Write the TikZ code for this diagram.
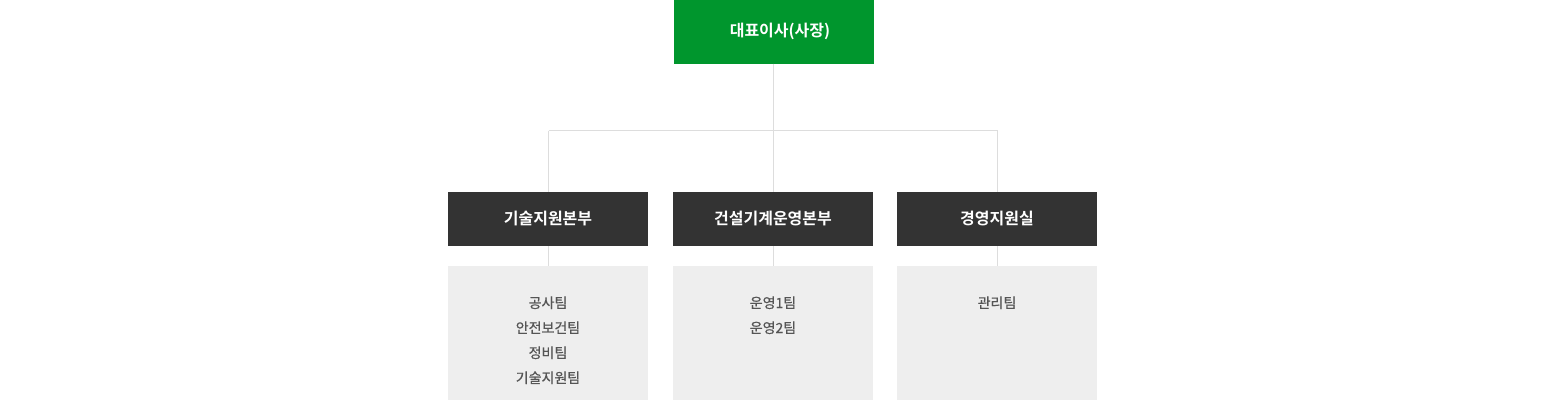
\documentclass[tikz,border=0pt]{standalone}
\usepackage{fontspec}
\newfontfamily\kr{Noto Sans CJK KR}[BoldFont=* Bold]
\newfontfamily\krm{Noto Sans CJK KR}[FakeBold=0.6]
\definecolor{topgreen}{RGB}{0,150,45}
\definecolor{headdark}{RGB}{51,51,51}
\definecolor{boxgray}{RGB}{238,238,238}
\definecolor{linegray}{RGB}{221,221,221}
\definecolor{textgray}{RGB}{85,85,85}
\begin{document}
\begin{tikzpicture}[x=1pt,y=-1pt,
  topbox/.style={fill=topgreen,draw=none,minimum width=200pt,minimum height=64pt,inner sep=0pt},
  headbox/.style={fill=headdark,draw=none,minimum width=200pt,minimum height=54pt,inner sep=0pt,text=white,font=\kr\bfseries\fontsize{16}{18}\selectfont},
  teambox/.style={fill=boxgray,draw=none,minimum width=200pt,minimum height=134pt,inner sep=0pt},
  teamtext/.style={text=textgray,inner sep=0pt,anchor=base,font=\krm\fontsize{14}{18}\selectfont},
  link/.style={draw=linegray,line width=1pt}]
\useasboundingbox (0,0) rectangle (1547,400);
% top
\node[topbox] (ceo) at (774,31.5) {};
\node[text=white,inner sep=0pt,font=\kr\bfseries\fontsize{16}{18}\selectfont] (ceot) at (780,31.5) {대표이사(사장)};
% heads
\node[headbox] (h1) at (548,219) {기술지원본부};
\node[headbox] (h2) at (773,219) {건설기계운영본부};
\node[headbox] (h3) at (997,219) {경영지원실};
% team boxes
\node[teambox] (t1) at (548,333) {};
\node[teambox] (t2) at (773,333) {};
\node[teambox] (t3) at (997,333) {};
% connectors
\coordinate (j0) at (773.5,130.5);
\coordinate (jl) at (548.5,130.5);
\coordinate (jr) at (997.5,130.5);
\draw[link] (ceo.south -| j0) -- (j0);
\draw[link] (jl) -- (jr);
\draw[link] (jl) -- (h1.north -| jl);
\draw[link] (j0) -- (h2.north -| j0);
\draw[link] (jr) -- (h3.north -| jr);
\draw[link] (h1.south -| jl) -- (t1.north -| jl);
\draw[link] (h2.south -| j0) -- (t2.north -| j0);
\draw[link] (h3.south -| jr) -- (t3.north -| jr);
% team texts
\node[teamtext] (a1) at (548,308) {공사팀};
\node[teamtext] (a2) at (548,333) {안전보건팀};
\node[teamtext] (a3) at (548,358) {정비팀};
\node[teamtext] (a4) at (548,383) {기술지원팀};
\node[teamtext] (b1) at (773,308) {운영1팀};
\node[teamtext] (b2) at (773,333) {운영2팀};
\node[teamtext] (c1) at (997,308) {관리팀};
\end{tikzpicture}
\end{document}
